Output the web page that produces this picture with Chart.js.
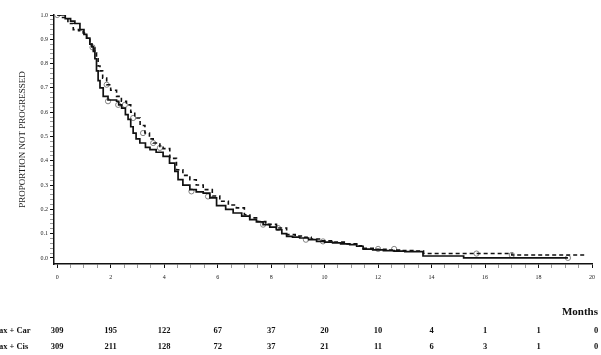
<!DOCTYPE html>
<html>
<head>
<meta charset="utf-8">
<script src="https://cdn.jsdelivr.net/npm/chart.js@4/dist/chart.umd.min.js"></script>
<style>
  html, body { margin: 0; padding: 0; background: #fff; overflow: hidden; }
  #wrap { width: 601px; height: 355px; position: relative; }
</style>
</head>
<body>
<div id="wrap"><canvas id="km" width="601" height="355"></canvas></div>
<script>
// Tax + Car (solid) step curve, [months, proportion]
var car_months = [0, 0.3, 0.5, 0.66, 0.85, 1.0, 1.1, 1.22, 1.29, 1.35, 1.41, 1.47, 1.53, 1.6, 1.72, 1.9, 2.22, 2.3, 2.41, 2.55, 2.65, 2.75, 2.84, 2.95, 3.09, 3.3, 3.47, 3.7, 3.96, 4.2, 4.4, 4.52, 4.7, 4.96, 5.2, 5.46, 5.71, 5.96, 6.3, 6.58, 6.9, 7.2, 7.45, 7.7, 7.95, 8.2, 8.4, 8.58, 8.8, 9.07, 9.4, 9.7, 10.0, 10.3, 10.6, 10.94, 11.2, 11.44, 11.8, 12.2, 12.6, 13.0, 13.68, 15.2, 19.1];
var car_prop = [1.0, 0.985, 0.975, 0.965, 0.94, 0.92, 0.905, 0.88, 0.87, 0.85, 0.82, 0.77, 0.73, 0.70, 0.665, 0.65, 0.645, 0.63, 0.617, 0.59, 0.57, 0.54, 0.514, 0.49, 0.473, 0.455, 0.446, 0.435, 0.418, 0.39, 0.356, 0.322, 0.30, 0.281, 0.272, 0.267, 0.247, 0.215, 0.20, 0.185, 0.172, 0.158, 0.148, 0.137, 0.127, 0.116, 0.10, 0.089, 0.086, 0.082, 0.075, 0.068, 0.065, 0.062, 0.058, 0.055, 0.048, 0.036, 0.033, 0.030, 0.028, 0.026, 0.008, 0.0, 0.0];

// Tax + Cis (dashed)
var cis_months = [0, 0.2, 0.4, 0.6, 0.8, 0.97, 1.1, 1.22, 1.3, 1.41, 1.47, 1.53, 1.6, 1.7, 1.85, 2.0, 2.22, 2.4, 2.59, 2.75, 2.9, 3.1, 3.28, 3.45, 3.59, 3.84, 3.96, 4.21, 4.46, 4.7, 4.96, 5.2, 5.46, 5.8, 6.08, 6.4, 6.7, 7.0, 7.2, 7.5, 7.8, 8.2, 8.58, 8.9, 9.2, 9.5, 9.9, 10.3, 10.8, 11.2, 11.44, 11.9, 12.4, 12.8, 13.3, 13.7, 17.0, 19.8];
var cis_prop = [1.0, 0.99, 0.965, 0.94, 0.935, 0.926, 0.905, 0.885, 0.87, 0.844, 0.82, 0.79, 0.77, 0.74, 0.713, 0.69, 0.665, 0.645, 0.63, 0.60, 0.576, 0.545, 0.514, 0.49, 0.473, 0.455, 0.45, 0.41, 0.363, 0.34, 0.322, 0.30, 0.281, 0.255, 0.233, 0.218, 0.206, 0.178, 0.165, 0.15, 0.138, 0.123, 0.096, 0.09, 0.085, 0.078, 0.07, 0.065, 0.058, 0.05, 0.04, 0.035, 0.032, 0.030, 0.028, 0.018, 0.012, 0.012];

// censored marks
var car_cens_months = [0, 1.32, 1.9, 2.28, 5.02, 5.64, 7.7, 9.3, 19.1];
var car_cens_prop = [1.0, 0.867, 0.645, 0.63, 0.274, 0.253, 0.137, 0.075, 0.0];
var cis_cens_months = [1.85, 2.53, 2.84, 3.21, 3.59, 3.84, 8.26, 9.94, 12.0, 12.6, 15.68, 17.0];
var cis_cens_prop = [0.713, 0.63, 0.576, 0.514, 0.473, 0.453, 0.123, 0.068, 0.037, 0.037, 0.018, 0.012];

// number at risk table
var risk_months = [0, 2, 4, 6, 8, 10, 12, 14, 16, 18, 20];
var risk_labels = ['Tax + Car', 'Tax + Cis'];
var risk_car = [309, 195, 122, 67, 37, 20, 10, 4, 1, 1, 0];
var risk_cis = [309, 211, 128, 72, 37, 21, 11, 6, 3, 1, 0];

function pts(xs, ys) {
    var out = [];
    for (var i = 0; i < xs.length; i++) out.push({x: xs[i], y: ys[i]});
    return out;
}

var riskTable = {
    id: 'riskTable',
    afterDraw: function(chart) {
        var c = chart.ctx;
        var xs = chart.scales.x;
        c.save();
        c.fillStyle = '#111';
        c.font = 'bold 11px "Liberation Serif", serif';
        c.textAlign = 'right';
        c.textBaseline = 'middle';
        c.fillText('Months', 598, 312);
        c.font = 'bold 8.5px "Liberation Serif", serif';
        var rows = [risk_car, risk_cis];
        var ys = [331, 347];
        for (var r = 0; r < rows.length; r++) {
            c.textAlign = 'left';
            c.fillText(risk_labels[r], -6, ys[r]);
            c.textAlign = 'center';
            for (var i = 0; i < risk_months.length; i++) {
                var px = xs.getPixelForValue(risk_months[i]);
                if (i == risk_months.length - 1) px = 596;
                c.fillText(String(rows[r][i]), px, ys[r]);
            }
        }
        c.restore();
    }
};

var ctx = document.getElementById('km').getContext('2d');
var chart_km = new Chart(ctx, {
    type: 'line',
    data: {
        datasets: [{
            label: 'Tax + Car',
            data: pts(car_months, car_prop),
            borderColor: '#111',
            borderWidth: 1.7,
            stepped: true,
            pointRadius: 0,
            fill: false
        }, {
            label: 'Tax + Cis',
            data: pts(cis_months, cis_prop),
            borderColor: '#111',
            borderWidth: 1.6,
            borderDash: [4, 3],
            stepped: true,
            pointRadius: 0,
            fill: false
        }, {
            label: 'Car censored',
            data: pts(car_cens_months, car_cens_prop),
            showLine: false,
            pointStyle: 'circle',
            pointRadius: 2.6,
            pointBorderWidth: 0.9,
            pointBorderColor: '#777',
            pointBackgroundColor: 'rgba(0,0,0,0)'
        }, {
            label: 'Cis censored',
            data: pts(cis_cens_months, cis_cens_prop),
            showLine: false,
            pointStyle: 'circle',
            pointRadius: 2.6,
            pointBorderWidth: 0.9,
            pointBorderColor: '#777',
            pointBackgroundColor: 'rgba(0,0,0,0)'
        }]
    },
    options: {
        responsive: false,
        animation: false,
        devicePixelRatio: 1,
        layout: { padding: { top: 15, right: 9, bottom: 61, left: 0 } },
        plugins: { legend: { display: false }, tooltip: { enabled: false } },
        scales: {
            x: {
                type: 'linear',
                min: -0.12,
                max: 20,
                afterFit: function(s) { s.height = 30; },
                afterBuildTicks: function(s) {
                    var t = [];
                    for (var i = 0; i <= 40; i++) t.push({value: i / 2});
                    s.ticks = t;
                },
                border: { color: '#111', width: 1.5 },
                grid: {
                    drawOnChartArea: false,
                    tickLength: 4,
                    tickColor: function(c) { return (c.tick && c.tick.value % 2 === 0) ? '#111' : '#999'; }
                },
                ticks: {
                    autoSkip: false,
                    maxRotation: 0,
                    padding: 6,
                    color: '#222',
                    font: { family: '"Liberation Serif", serif', size: 6 },
                    callback: function(v) { return v % 2 === 0 ? String(v) : ''; }
                }
            },
            y: {
                type: 'linear',
                min: -0.025,
                max: 1.0,
                afterFit: function(s) { s.width = 54; },
                afterBuildTicks: function(s) {
                    var t = [];
                    for (var i = 0; i <= 50; i++) t.push({value: i / 50});
                    s.ticks = t;
                },
                border: { color: '#111', width: 1.5 },
                grid: {
                    drawOnChartArea: false,
                    tickLength: 4,
                    tickColor: function(c) { return (c.tick && Math.round(c.tick.value * 50) % 5 === 0) ? '#111' : '#999'; }
                },
                ticks: {
                    autoSkip: false,
                    padding: 2,
                    color: '#222',
                    font: { family: '"Liberation Serif", serif', size: 6 },
                    callback: function(v) { return Math.round(v * 50) % 5 === 0 ? v.toFixed(1) : ''; }
                },
                title: {
                    display: true,
                    text: 'PROPORTION NOT PROGRESSED',
                    color: '#222',
                    font: { family: '"Liberation Serif", serif', size: 9 },
                    padding: { top: 17, bottom: 0 }
                }
            }
        }
    },
    plugins: [riskTable]
});
</script>
</body>
</html>
